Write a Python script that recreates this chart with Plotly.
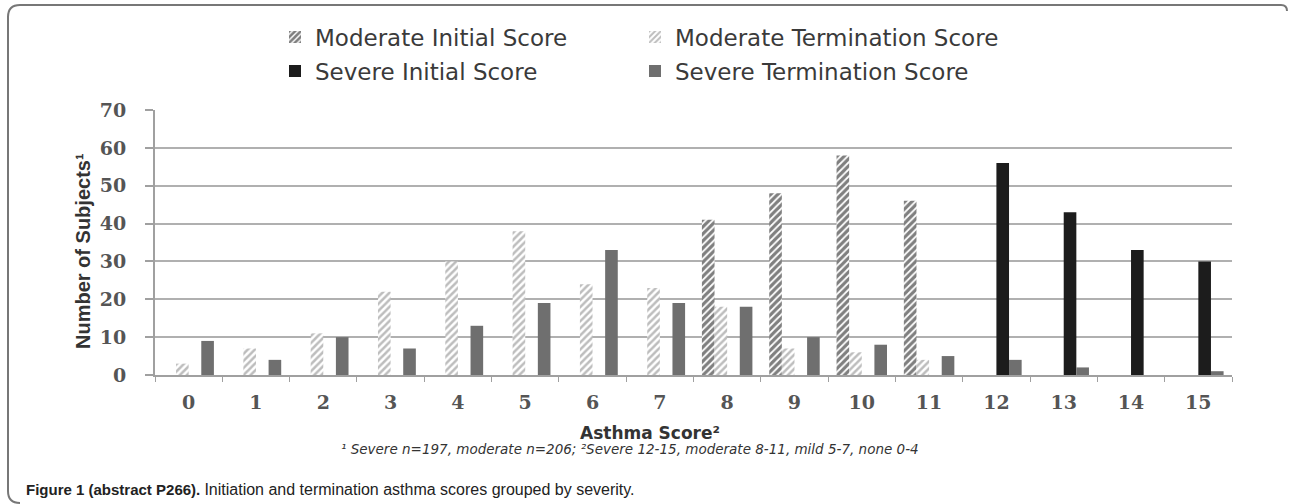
import plotly.graph_objects as go

categories = [str(i) for i in range(16)]
moderate_initial = [0, 0, 0, 0, 0, 0, 0, 0, 41, 48, 58, 46, 0, 0, 0, 0]
moderate_termination = [3, 7, 11, 22, 30, 38, 24, 23, 18, 7, 6, 4, 0, 0, 0, 0]
severe_initial = [0, 0, 0, 0, 0, 0, 0, 0, 0, 0, 0, 0, 56, 43, 33, 30]
severe_termination = [9, 4, 10, 7, 13, 19, 33, 19, 18, 10, 8, 5, 4, 2, 0, 1]
y_ticks = [0, 10, 20, 30, 40, 50, 60, 70]

W, H = 1290, 504
L, R, T, B = 155, 58, 110, 129
PW, PH = W - L - R, H - T - B


def px(x):
    return (x - L) / PW


def py(y):
    return (H - B - y) / PH


fig = go.Figure()
fig.add_trace(go.Bar(
    x=categories, y=moderate_initial, name="Moderate Initial Score", legend="legend",
    marker=dict(color="white", line=dict(width=0),
                pattern=dict(shape="/", fgcolor="#000000", bgcolor="white", size=5, solidity=0.65)),
))
fig.add_trace(go.Bar(
    x=categories, y=moderate_termination, name="Moderate Termination Score", legend="legend2",
    marker=dict(color="white", line=dict(width=0),
                pattern=dict(shape="/", fgcolor="#7c7c7c", bgcolor="white", size=5, solidity=0.5)),
))
fig.add_trace(go.Bar(
    x=categories, y=severe_initial, name="Severe Initial Score", legend="legend3",
    marker=dict(color="#1c1c1c", line=dict(width=0)),
))
fig.add_trace(go.Bar(
    x=categories, y=severe_termination, name="Severe Termination Score", legend="legend4",
    marker=dict(color="#6f6f6f", line=dict(width=0)),
))

leg_common = dict(orientation="h", xanchor="left", yanchor="middle", visible=True,
                  font=dict(family="DejaVu Sans, Verdana, sans-serif", size=23, color="#3a3a3a"),
                  bgcolor="rgba(0,0,0,0)", itemwidth=30)

col1, col2 = 275, 635
row1, row2 = 37, 71

tick_font = dict(family="DejaVu Serif, Liberation Serif, serif", size=19, color="#555", weight="bold")

fig.update_layout(
    width=W, height=H,
    margin=dict(l=L, r=R, t=T, b=B, autoexpand=False),
    paper_bgcolor="white", plot_bgcolor="white",
    showlegend=True,
    barmode="group", bargap=0.25, bargroupgap=0,
    legend=dict(x=px(col1), y=py(row1), **leg_common),
    legend2=dict(x=px(col2), y=py(row1), **leg_common),
    legend3=dict(x=px(col1), y=py(row2), **leg_common),
    legend4=dict(x=px(col2), y=py(row2), **leg_common),
    xaxis=dict(
        type="category", showgrid=False, showline=True, linecolor="#a0a0a0", linewidth=2,
        ticks="outside", tickson="boundaries", ticklen=5, tickcolor="#a0a0a0", tickwidth=1,
        ticklabelstandoff=9, tickfont=tick_font,
    ),
    yaxis=dict(
        range=[0, 70], tickvals=y_ticks, showgrid=True, gridcolor="#b0b0b0", gridwidth=2,
        showline=True, linecolor="#a0a0a0", linewidth=2, zeroline=False,
        ticks="outside", ticklen=8, tickcolor="#a0a0a0", tickwidth=2, ticklabelstandoff=15,
        tickfont=tick_font,
    ),
    font=dict(family="Liberation Sans, Arial, sans-serif"),
    annotations=[
        dict(text="Number of Subjects¹", xref="paper", yref="paper", x=px(83), y=py(251),
             textangle=-90, showarrow=False, xanchor="center", yanchor="middle",
             font=dict(family="Liberation Sans, Arial, sans-serif", size=20, color="#333", weight="bold")),
        dict(text="<b>Asthma Score²</b>", xref="paper", yref="paper", x=px(650), y=py(433),
             showarrow=False, xanchor="center", yanchor="middle",
             font=dict(family="DejaVu Sans, Verdana, sans-serif", size=17, color="#333")),
        dict(text="<i>¹ Severe n=197, moderate n=206; ²Severe 12-15, moderate 8-11, mild 5-7, none 0-4</i>",
             xref="paper", yref="paper", x=px(630), y=py(449),
             showarrow=False, xanchor="center", yanchor="middle",
             font=dict(family="DejaVu Sans, Verdana, sans-serif", size=13.5, color="#333")),
        dict(text="<b>Figure 1 (abstract P266).</b> "
                  "<span style='font-family:Liberation Sans Narrow, Arial Narrow, sans-serif; font-size:16px'>"
                  "Initiation and termination asthma scores grouped by severity.</span>",
             xref="paper", yref="paper", x=px(24), y=py(489),
             showarrow=False, xanchor="left", yanchor="middle",
             font=dict(family="Liberation Sans, Arial, sans-serif", size=15, color="#222")),
    ],
)

# rounded figure border (left and top edges visible in the frame)
rx, ry = 12 / PW, 12 / PH
x0, y0, x1, yb = px(8), py(5), px(1287), py(503)
path = (f"M {x0 + rx},{yb} Q {x0},{yb} {x0},{yb + ry} "
        f"L {x0},{y0 - ry} Q {x0},{y0} {x0 + rx},{y0} "
        f"L {x1 - rx / 2},{y0} Q {x1},{y0} {x1},{y0 - ry / 2}")
fig.add_shape(type="path", xref="paper", yref="paper", path=path,
              line=dict(color="#777", width=2))

fig.write_html("out.html", config={"displayModeBar": False},
               post_script="document.body.style.margin='0';")
